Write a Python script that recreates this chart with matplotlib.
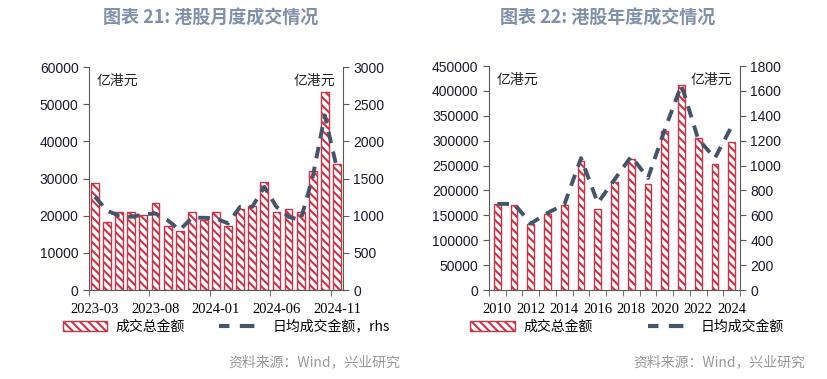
import matplotlib
matplotlib.use("Agg")
import matplotlib.pyplot as plt
from matplotlib.patches import Patch
from matplotlib.lines import Line2D
import numpy as np

plt.rcParams['font.family'] = ['Noto Sans CJK SC', 'DejaVu Sans']
plt.rcParams['hatch.linewidth'] = 1.5

# monthly data, 2023-03 .. 2024-11
months = ['2023-03', '2023-04', '2023-05', '2023-06', '2023-07', '2023-08', '2023-09',
          '2023-10', '2023-11', '2023-12', '2024-01', '2024-02', '2024-03', '2024-04',
          '2024-05', '2024-06', '2024-07', '2024-08', '2024-09', '2024-10', '2024-11']
month_total = [28900, 18400, 21100, 20900, 20300, 23300, 17100, 15800, 20900, 18800, 21100,
               17200, 21700, 22600, 29100, 21100, 21700, 20900, 31900, 53300, 33800]
month_daily = [1254, 1066, 1000, 985, 1016, 1030, 940, 806, 972, 972, 963,
               896, 1120, 1120, 1388, 1120, 985, 940, 1523, 2350, 1634]

# yearly data, 2010 .. 2024
years = [str(y) for y in range(2010, 2025)]
year_total = [172000, 171000, 132000, 153500, 171600, 260000, 163000, 217600, 263000,
              213600, 320000, 412000, 306000, 253700, 297000]
year_daily = [692, 692, 534, 620, 686, 1060, 700, 887, 1074, 900, 1287, 1648, 1213, 1060, 1314]

RED = '#cc3347'
NAVY = '#44546a'
AXC = '#595959'
TITLE_C = '#7f90aa'

fig = plt.figure(figsize=(8.27, 3.79), dpi=100)


def draw_panel(rect, cats, totals, daily, ymax1, ystep1, ymax2, ystep2, barw, label_every):
    ax = fig.add_axes(rect)
    x = np.arange(len(cats))
    ax.bar(x, totals, width=barw, color='white', edgecolor=RED, hatch='\\\\\\\\', linewidth=1.0)
    ax.set_xlim(-0.5, len(cats) - 0.5)
    ax.set_ylim(0, ymax1)
    ax.set_yticks(np.arange(0, ymax1 + 1, ystep1))
    ax2 = ax.twinx()
    ax2.plot(x, daily, color=NAVY, lw=2.8, linestyle=(0, (3, 2.2)))
    ax2.set_ylim(0, ymax2)
    ax2.set_yticks(np.arange(0, ymax2 + 1, ystep2))

    ax.set_xticks(x[::label_every])
    ax.set_xticklabels(cats[::label_every], fontfamily='Liberation Serif', fontsize=10.5)
    ax.tick_params(axis='x', length=0, pad=9)
    bounds = np.arange(-0.5, len(cats), label_every if label_every > 2 else 1)
    ax.set_xticks(bounds, minor=True)
    ax.tick_params(axis='x', which='minor', length=4, color=AXC)

    for a in (ax, ax2):
        a.spines['top'].set_visible(False)
        for s in ('left', 'right', 'bottom'):
            a.spines[s].set_color(AXC)
        a.tick_params(axis='y', length=4, color=AXC, labelsize=10, labelcolor='#1a1a2e')
        for lab in a.get_yticklabels():
            lab.set_fontfamily('Liberation Sans')
    ax2.spines['left'].set_visible(False)
    ax2.spines['bottom'].set_visible(False)
    ax.spines['right'].set_visible(False)
    ax.text(0.03, 0.97, '亿港元', transform=ax.transAxes, fontsize=10, va='top', ha='left',
            color='#222222')
    ax2.text(0.97, 0.97, '亿港元', transform=ax.transAxes, fontsize=10, va='top', ha='right',
             color='#222222')
    return ax


axL = draw_panel([0.1076, 0.2348, 0.3071, 0.5884], months, month_total, month_daily,
                 60000, 10000, 3000, 500, 0.65, 5)
axR = draw_panel([0.5913, 0.2348, 0.3035, 0.591], years, year_total, year_daily,
                 450000, 50000, 1800, 200, 0.4, 2)

fig.text(211 / 827, 1 - 18 / 379, '图表 21: 港股月度成交情况', ha='center', va='center',
         fontsize=13, fontweight='bold', color=TITLE_C)
fig.text(608 / 827, 1 - 18 / 379, '图表 22: 港股年度成交情况', ha='center', va='center',
         fontsize=13, fontweight='bold', color=TITLE_C)

bar_h = Patch(facecolor='white', edgecolor=RED, hatch='\\\\\\\\')
line_h = Line2D([], [], color=NAVY, lw=3, linestyle=(1, (3.5, 2.5)))
fig.legend([bar_h, line_h], ['成交总金额', '日均成交金额，rhs'], loc='center left',
           bbox_to_anchor=(50 / 827, 1 - 327 / 379), ncol=2, frameon=False, fontsize=10,
           handlelength=3.2, columnspacing=2.5, handletextpad=0.6)
fig.legend([bar_h, line_h], ['成交总金额', '日均成交金额'], loc='center left',
           bbox_to_anchor=(458 / 827, 1 - 327 / 379), ncol=2, frameon=False, fontsize=10,
           handlelength=3.2, columnspacing=4.0, handletextpad=0.6)

fig.text(400 / 827, 1 - 362 / 379, '资料来源：Wind，兴业研究', ha='right', va='center',
         fontsize=10, color='#999999')
fig.text(805 / 827, 1 - 362 / 379, '资料来源：Wind，兴业研究', ha='right', va='center',
         fontsize=10, color='#999999')

fig.savefig('out.png', dpi=100)
